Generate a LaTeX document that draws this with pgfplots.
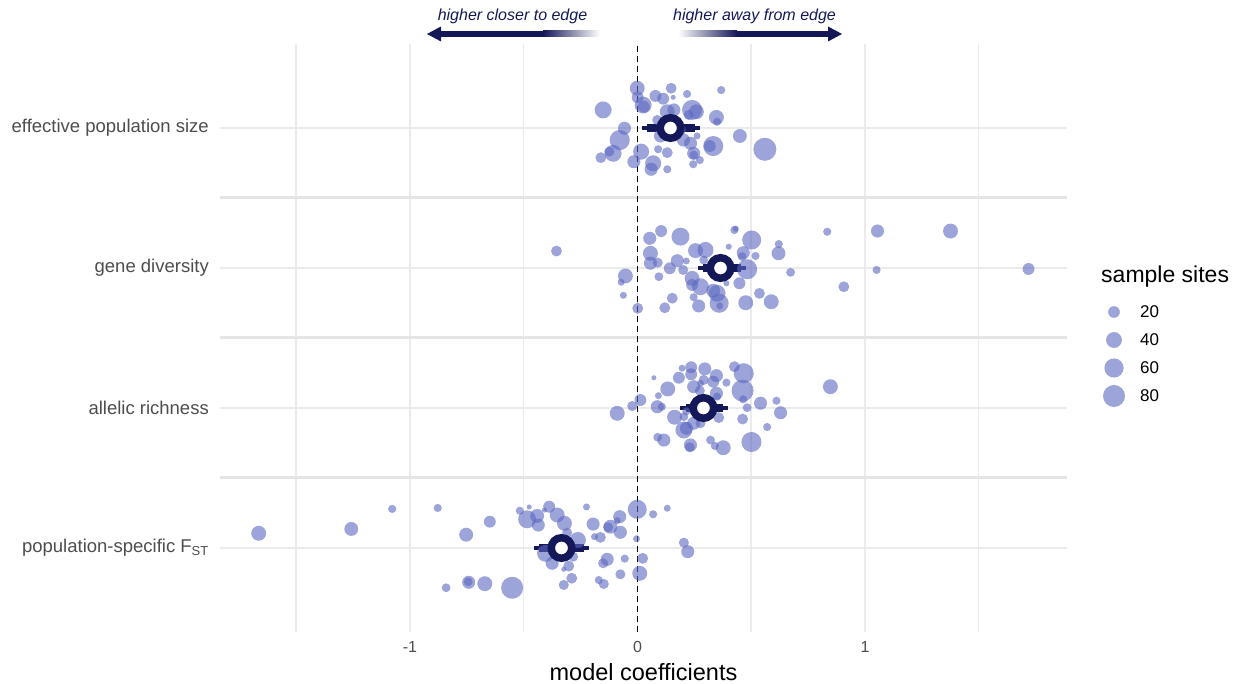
\documentclass[border=0pt]{standalone}
\usepackage{fontspec}
\setmainfont{Liberation Sans}
\usepackage{pgfplots}
\pgfplotsset{compat=1.18}
\usepackage{pgfplotstable}
\definecolor{navy}{RGB}{20,24,89}
\definecolor{ptc}{RGB}{92,103,191}
\definecolor{gridc}{RGB}{235,235,235}
\definecolor{sepc}{RGB}{229,229,229}
\definecolor{labc}{RGB}{77,77,77}

% effective population size (row 4)
\pgfplotstableread{
x y n
-0.001 4.284 35
0.001 4.219 21
0.025 4.164 46
0.028 4.152 21
0.148 4.284 17
0.218 4.243 8
0.157 4.219 1
0.079 4.229 21
0.113 4.209 21
0.368 4.271 8
-0.151 4.129 46
0.240 4.129 66
0.259 4.116 35
0.160 4.129 26
0.131 4.116 35
0.347 4.076 35
0.350 4.045 8
0.225 4.093 14
0.087 4.057 14
-0.057 3.998 26
-0.078 3.914 66
0.202 3.914 26
0.262 3.943 5
0.450 3.943 30
0.560 3.848 88
0.333 3.871 66
0.318 3.871 21
0.233 3.891 26
0.247 3.819 26
0.247 3.807 10
0.274 3.771 8
0.245 3.741 8
0.016 3.831 41
0.091 3.848 8
0.131 3.824 17
-0.107 3.819 46
-0.124 3.831 14
-0.161 3.788 17
-0.016 3.759 26
0.069 3.748 41
0.060 3.705 26
0.131 3.705 8
0.183 3.986 26
0.101 3.943 26
}\effdata

% gene diversity (row 3)
\pgfplotstableread{
x y n
-0.356 3.121 17
-0.053 2.943 35
-0.072 2.898 5
-0.062 2.805 5
0.001 2.712 17
0.054 3.212 26
0.104 3.264 21
0.189 3.224 52
0.057 3.105 35
0.057 3.034 26
0.089 3.038 14
0.094 2.938 10
0.142 2.998 21
0.175 3.052 26
0.201 2.986 14
0.215 3.050 5
0.255 3.124 35
0.299 3.129 41
0.291 3.057 10
0.240 2.926 35
0.240 2.879 21
0.277 2.866 46
0.153 2.784 17
0.120 2.716 17
0.247 2.791 8
0.269 2.729 26
0.333 2.838 30
0.350 2.819 46
0.359 2.748 59
0.362 2.729 5
0.391 2.891 3
0.426 3.271 8
0.432 3.281 3
0.401 3.152 3
0.502 3.200 59
0.465 3.109 26
0.460 3.081 10
0.519 3.086 8
0.482 2.991 66
0.448 2.891 21
0.476 2.752 35
0.536 2.819 17
0.588 2.759 35
0.620 3.105 30
0.621 3.171 8
0.673 2.969 10
0.834 3.259 8
0.907 2.866 17
1.055 3.264 26
1.376 3.264 35
1.051 2.986 8
1.719 2.993 21
}\genedata

% allelic richness (row 2)
\pgfplotstableread{
x y n
-0.089 1.962 35
-0.023 2.014 14
0.013 2.057 21
0.072 2.216 1
0.092 2.088 5
0.087 2.009 26
0.107 2.009 8
0.133 2.136 35
0.182 2.216 21
0.196 2.284 5
0.236 2.291 21
0.236 2.241 21
0.296 2.279 26
0.347 2.231 26
0.333 2.188 21
0.291 2.200 14
0.247 2.152 26
0.277 2.176 5
0.391 2.181 8
0.426 2.295 17
0.467 2.248 66
0.462 2.124 80
0.465 2.062 8
0.347 2.105 26
0.350 2.081 8
0.482 2.002 10
0.541 2.034 26
0.611 2.052 8
0.629 1.966 26
0.462 1.921 17
0.570 1.864 8
0.848 2.152 35
0.357 1.931 17
0.163 1.934 35
0.204 1.938 10
0.215 1.976 8
0.247 1.891 26
0.277 1.891 14
0.204 1.843 46
0.215 1.855 26
0.089 1.791 10
0.116 1.771 26
0.233 1.736 26
0.230 1.719 14
0.321 1.771 10
0.340 1.729 8
0.377 1.716 35
0.501 1.757 66
0.274 2.124 14
}\alleldata

% population-specific FST (row 1)
\pgfplotstableread{
x y n
-1.665 1.105 35
-1.258 1.136 30
-1.078 1.279 8
-0.878 1.286 8
-0.753 1.095 30
-0.649 1.188 21
-0.517 1.266 8
-0.476 1.293 1
-0.485 1.205 52
-0.441 1.229 30
-0.436 1.164 26
-0.409 1.271 1
-0.388 1.295 21
-0.353 1.236 35
-0.321 1.176 35
-0.309 1.109 14
-0.262 1.057 41
-0.224 1.293 5
-0.195 1.171 26
-0.189 1.081 5
-0.163 1.076 17
-0.119 1.152 30
-0.078 1.224 26
-0.075 1.112 26
-0.129 1.148 14
-0.089 1.195 5
-0.001 1.276 59
0.069 1.241 8
0.131 1.284 5
-0.004 1.066 5
0.204 1.038 14
0.221 0.974 26
0.023 0.926 17
0.010 0.819 35
-0.056 0.924 8
-0.075 0.812 14
-0.148 0.743 14
-0.170 0.771 8
-0.133 0.919 26
-0.151 0.891 14
-0.289 0.784 17
-0.324 0.736 14
-0.302 0.871 17
-0.324 0.848 1
-0.375 0.891 26
-0.404 0.962 46
-0.283 0.938 14
-0.841 0.716 10
-0.742 0.755 26
-0.744 0.759 10
-0.671 0.745 35
-0.551 0.716 80
}\fstdata

% model estimates with 66% and 95% intervals
\pgfplotstableread{
row est lo66 hi66 lo95 hi95
4 0.145 0.040 0.255 0.021 0.277
3 0.365 0.286 0.453 0.264 0.475
2 0.290 0.215 0.377 0.189 0.400
1 -0.334 -0.434 -0.236 -0.457 -0.215
}\estdata

\pgfplotsset{
  sites/.style={
    color=ptc,
    scatter, only marks, mark=*, scatter src=explicit,
    scatter/use mapped color={draw=ptc, fill=ptc, draw opacity=0, fill opacity=0.6},
    visualization depends on={sqrt(20+5.8*\thisrow{n})/2 \as \rad},
    scatter/@pre marker code/.append style={/tikz/mark size=\rad pt},
    mark options={draw=ptc, fill=ptc, draw opacity=0, fill opacity=0.6},
  }
}

\begin{document}
\begin{tikzpicture}
\path[use as bounding box] (0,0) rectangle (1239pt,684pt);
\begin{axis}[
  at={(220pt,52pt)}, anchor=south west,
  scale only axis, width=847pt, height=588pt,
  xmin=-1.835, xmax=1.888, ymin=0.4, ymax=4.6,
  clip=false,
  axis line style={draw=none},
  tick style={draw=none},
  xtick={-1,0,1}, xticklabels={-1,0,1},
  minor xtick={-1.5,-0.5,0.5,1.5},
  ytick={1,2,3,4},
  yticklabels={population-specific F\textsubscript{ST}, allelic richness, gene diversity, effective population size},
  extra y ticks={1.5,2.5,3.5}, extra y tick labels={},
  extra y tick style={grid=major, major grid style={sepc, line width=3pt}},
  xmajorgrids, xminorgrids, ymajorgrids,
  major grid style={gridc, line width=1.5pt},
  minor grid style={gridc, line width=1.5pt},
  xticklabel style={font=\fontsize{16}{18}\selectfont, text=labc, inner sep=0pt, anchor=north, yshift=-9pt},
  yticklabel style={font=\fontsize{18.5}{20}\selectfont, text=labc, inner sep=0pt, anchor=east, xshift=-11pt},
  xlabel={model coefficients},
  xlabel style={font=\fontsize{23.5}{25}\selectfont, at={(axis description cs:0.5,0)}, anchor=center, yshift=-40pt},
  unbounded coords=jump,
]
\addplot[sites] table[x=x, y=y, meta=n] {\effdata};
\addplot[sites] table[x=x, y=y, meta=n] {\genedata};
\addplot[sites] table[x=x, y=y, meta=n] {\alleldata};
\addplot[sites] table[x=x, y=y, meta=n] {\fstdata};
\addplot[black, line width=1.6pt, dash pattern=on 6pt off 4pt] coordinates {(0,0.4) (0,4.6)};
% 95% intervals
\addplot[navy, line width=3.5pt, forget plot] coordinates {(0.021,4) (0.277,4) (nan,nan) (0.264,3) (0.475,3) (nan,nan) (0.189,2) (0.400,2) (nan,nan) (-0.457,1) (-0.215,1)};
% 66% intervals
\addplot[navy, line width=8pt, forget plot] coordinates {(0.040,4) (0.255,4) (nan,nan) (0.286,3) (0.453,3) (nan,nan) (0.215,2) (0.377,2) (nan,nan) (-0.434,1) (-0.236,1)};
\addplot[only marks, mark=*, mark size=10.25pt, mark options={fill=white, draw=navy, line width=7.5pt}] table[x=est, y=row] {\estdata};
\end{axis}

% direction arrows
\fill[navy] (437pt,647pt) rectangle (543pt,653pt);
\shade[left color=navy, right color=white] (543pt,647pt) rectangle (600pt,653pt);
\fill[navy] (427pt,650pt) -- (441pt,657.5pt) -- (441pt,642.5pt) -- cycle;
\node[font=\fontsize{16}{18}\selectfont\itshape, text=navy] at (512.5pt,668pt) {higher closer to edge};
\fill[navy] (737pt,647pt) rectangle (830pt,653pt);
\shade[left color=white, right color=navy] (678pt,647pt) rectangle (737pt,653pt);
\fill[navy] (842pt,650pt) -- (828pt,657.5pt) -- (828pt,642.5pt) -- cycle;
\node[font=\fontsize{16}{18}\selectfont\itshape, text=navy] at (754.5pt,668pt) {higher away from edge};

% legend
\node[font=\fontsize{23}{25}\selectfont, anchor=west, inner sep=0pt] at (1101pt,407pt) {sample sites};
\begin{axis}[
  at={(1104pt,288pt)}, anchor=south west,
  scale only axis, width=20pt, height=84pt,
  xmin=-1, xmax=1, ymin=0, ymax=3,
  axis lines=none, clip=false,
]
\addplot[sites] table[x=x, y=y, meta=n] {
x y n
0 3 20
0 2 40
0 1 60
0 0 80
};
\node[anchor=west, inner sep=0pt, font=\fontsize{17}{19}\selectfont] at (axis cs:0,3) [xshift=26pt] {20};
\node[anchor=west, inner sep=0pt, font=\fontsize{17}{19}\selectfont] at (axis cs:0,2) [xshift=26pt] {40};
\node[anchor=west, inner sep=0pt, font=\fontsize{17}{19}\selectfont] at (axis cs:0,1) [xshift=26pt] {60};
\node[anchor=west, inner sep=0pt, font=\fontsize{17}{19}\selectfont] at (axis cs:0,0) [xshift=26pt] {80};
\end{axis}
\end{tikzpicture}
\end{document}
